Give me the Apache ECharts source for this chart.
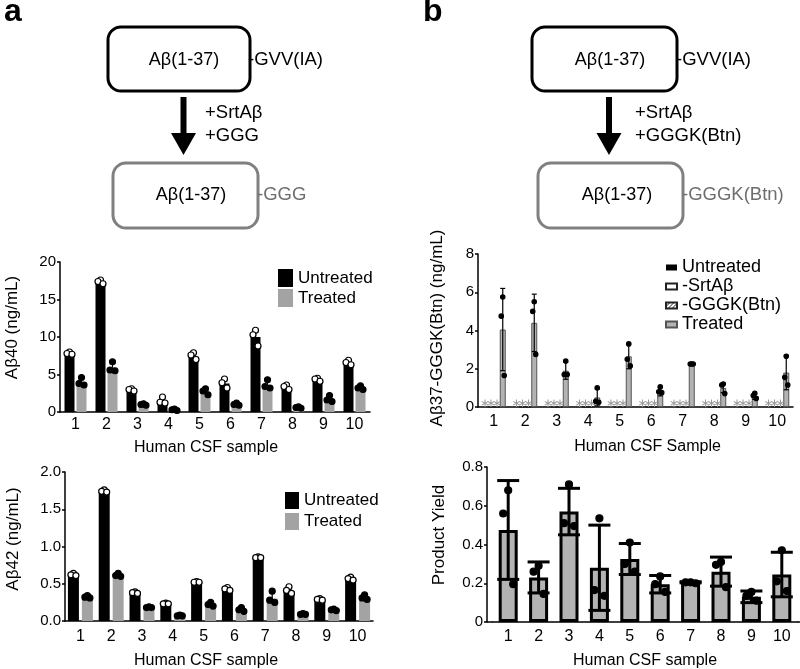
<!DOCTYPE html>
<html><head><meta charset="utf-8">
<script src="https://cdn.jsdelivr.net/npm/echarts/dist/echarts.min.js"></script>
<style>html,body{margin:0;padding:0;background:#fff}#c{width:800px;height:669px}</style>
</head><body><div id="c"></div>
<script>
const FONT = 'Liberation Sans, Arial, Helvetica, sans-serif';
const categories = ['1','2','3','4','5','6','7','8','9','10'];

// Panel a – Aβ40 (ng/mL)
const ab40Untreated = [7.8, 17.3, 2.9, 1.5, 7.4, 3.8, 10.0, 3.3, 4.3, 6.5];
const ab40UntreatedErr = [0.2, 0.3, 0.15, 0.45, 0.4, 0.6, 1.0, 0.3, 0.2, 0.3];
const ab40UntreatedPts = [[8.0,7.8,7.7],[17.6,17.4,17.1],[3.1,3.0,2.8],[2.0,1.3,1.2],[7.9,7.6,7.0],[4.4,3.9,3.2],[10.9,10.3,8.8],[3.6,3.4,3.0],[4.5,4.4,4.1],[6.9,6.6,6.3]];
const ab40Treated = [4.0, 5.9, 1.0, 0.3, 2.7, 1.0, 3.6, 0.6, 1.7, 3.2];
const ab40TreatedErr = [0.55, 0.75, 0.1, 0.1, 0.45, 0.15, 0.6, 0.1, 0.45, 0.25];
const ab40TreatedPts = [[4.6,3.8,3.6],[6.7,5.6,5.5],[1.1,1.0,0.9],[0.4,0.3,0.2],[3.1,2.8,2.3],[1.2,1.0,0.9],[4.3,3.4,3.2],[0.7,0.6,0.5],[2.2,1.6,1.4],[3.5,3.2,3.0]];

// Panel a – Aβ42 (ng/mL)
const ab42Untreated = [0.62, 1.73, 0.37, 0.23, 0.52, 0.42, 0.85, 0.40, 0.28, 0.56];
const ab42UntreatedErr = [0.02, 0.02, 0.01, 0.01, 0.01, 0.02, 0.01, 0.04, 0.02, 0.03];
const ab42UntreatedPts = [[0.64,0.62,0.61],[1.76,1.74,1.73],[0.39,0.38,0.37],[0.24,0.23,0.23],[0.53,0.52,0.52],[0.45,0.43,0.41],[0.86,0.85,0.85],[0.46,0.41,0.37],[0.30,0.29,0.28],[0.59,0.57,0.55]];
const ab42Treated = [0.32, 0.60, 0.18, 0.07, 0.21, 0.15, 0.30, 0.09, 0.15, 0.31];
const ab42TreatedErr = [0.02, 0.02, 0.01, 0.01, 0.03, 0.02, 0.10, 0.01, 0.02, 0.03];
const ab42TreatedPts = [[0.34,0.32,0.31],[0.64,0.61,0.60],[0.19,0.18,0.18],[0.08,0.07,0.07],[0.25,0.22,0.20],[0.18,0.15,0.13],[0.40,0.28,0.25],[0.10,0.09,0.09],[0.16,0.15,0.14],[0.35,0.31,0.29]];

// Panel b – Aβ37-GGGK(Btn) (ng/mL)
const btnUntreated = [0,0,0,0,0,0,0,0,0,0];
const btnNoSrtA = [0,0,0,0,0,0,0,0,0,0];
const btnNoGGGK = [0,0,0,0,0,0,0,0,0,0];
const btnTreated = [4.05, 4.4, 1.9, 0.5, 2.65, 0.8, 2.25, 1.0, 0.55, 1.8];
const btnTreatedErr = [2.15, 1.5, 0.45, 0.45, 0.65, 0.22, 0.03, 0.25, 0.15, 0.9];
const btnTreatedPts = [[5.75,4.75,1.65],[5.5,5.0,2.75],[2.4,1.7,1.7],[1.0,0.3,0.25],[3.3,2.5,2.15],[1.05,0.8,0.75],[2.25,2.25,2.25],[1.2,1.15,0.7],[0.72,0.6,0.45],[2.65,1.55,1.15]];

// Panel b – Product yield
const yieldMean = [0.475, 0.23, 0.57, 0.28, 0.325, 0.195, 0.205, 0.26, 0.13, 0.245];
const yieldErr = [0.255, 0.08, 0.12, 0.22, 0.08, 0.045, 0.003, 0.075, 0.03, 0.115];
const yieldPts = [[0.68,0.56,0.195],[0.29,0.26,0.145],[0.71,0.51,0.495],[0.535,0.165,0.135],[0.41,0.30,0.26],[0.235,0.195,0.155],[0.205,0.205,0.20],[0.31,0.295,0.18],[0.155,0.135,0.11],[0.37,0.21,0.16]];

// helpers
function errData(mean, err){ return categories.map((c,i)=>[i, mean[i], err[i]]); }
function ptData(pts){ const out=[]; pts.forEach((arr,i)=>arr.forEach((v,j)=>out.push([i,v,j]))); return out; }
function errRender(offset, capW, lw, oneSided){
  return function(params, api){
    const c=api.value(0), m=api.value(1), e=api.value(2);
    const p=api.coord([c,m]);
    const t=api.coord([c,m+e]);
    const b=api.coord([c,oneSided?m:Math.max(0,m-e)]);
    const x=p[0]+offset;
    const st={stroke:'#000', lineWidth:lw};
    const ch=[
      {type:'line', shape:{x1:x,y1:b[1],x2:x,y2:t[1]}, style:st},
      {type:'line', shape:{x1:x-capW/2,y1:t[1],x2:x+capW/2,y2:t[1]}, style:st}
    ];
    if(!oneSided) ch.push({type:'line', shape:{x1:x-capW/2,y1:b[1],x2:x+capW/2,y2:b[1]}, style:st});
    return {type:'group', children:ch};
  };
}
function ptRender(offset, r, fill, stroke, spread){
  const jit=[0,-1,1];
  return function(params, api){
    const c=api.value(0), v=api.value(1), j=api.value(2);
    const p=api.coord([c,v]);
    return {type:'circle', shape:{cx:p[0]+offset+jit[j]*spread, cy:p[1], r:r}, style:{fill:fill, stroke:stroke, lineWidth:1.2}};
  };
}

// hatch pattern
const pc=document.createElement('canvas'); pc.width=4; pc.height=4;
const g=pc.getContext('2d'); g.fillStyle='#fff'; g.fillRect(0,0,4,4);
g.strokeStyle='#222'; g.lineWidth=1; g.beginPath(); g.moveTo(0,4); g.lineTo(4,0); g.stroke();
const hatch={image:pc, repeat:'repeat'};

const axLine={lineStyle:{color:'#000', width:1.5}};
function xAx(idx, gap, margin, pad){
  return {type:'category', gridIndex:idx, data:categories, axisLine:axLine, axisTick:{show:false},
    axisLabel:{fontSize:16, color:'#000', margin:margin, fontFamily:FONT},
    name:(idx===2?'Human CSF Sample':'Human CSF sample'), nameLocation:'middle', nameGap:gap,
    nameTextStyle:{fontSize:16, color:'#000', fontFamily:FONT, padding:pad}};
}
function yAx(idx, max, interval, fmt, extra){
  return Object.assign({type:'value', gridIndex:idx, min:0, max:max, interval:interval,
    axisLine:{show:true, lineStyle:{color:'#000', width:1.5}}, axisTick:{show:true, length:3, lineStyle:{color:'#000', width:1.5}},
    splitLine:{show:false}, axisLabel:{fontSize:15, color:'#000', margin:4, fontFamily:FONT, formatter:fmt}}, extra||{});
}
function yName(text, cx, cy){
  return {type:'text', x:cx, y:cy, rotation:Math.PI/2,
    style:{text:text, fontSize:17, fontFamily:FONT, fill:'#000', align:'center', verticalAlign:'middle'}};
}

const option={
  animation:false,
  backgroundColor:'#fff',
  textStyle:{fontFamily:FONT},
  grid:[
    {left:60, top:262, width:310, height:150, containLabel:false, outerBoundsMode:'none'},
    {left:65, top:472, width:308, height:149, containLabel:false, outerBoundsMode:'none'},
    {left:478, top:254, width:315, height:153, containLabel:false, outerBoundsMode:'none'},
    {left:493, top:467, width:304, height:155, containLabel:false, outerBoundsMode:'none'}
  ],
  xAxis:[xAx(0,28,5,[0,18,0,0]), xAx(1,32,8,[0,26,0,0]), xAx(2,32,7,[0,0,0,24]), xAx(3,31,7,[0,0,0,0])],
  yAxis:[
    yAx(0,20,5,null),
    yAx(1,2,0.5,v=>v.toFixed(1)),
    yAx(2,8,2,null),
    yAx(3,0.8,0.2,null,{offset:6})
  ],
  legend:[
    {data:['Untreated','Treated'], left:273, top:264, orient:'vertical', icon:'rect', itemWidth:15, itemHeight:18, itemGap:2, selectedMode:false,
      textStyle:{fontSize:17, color:'#000', fontFamily:FONT}},
    {data:['Untreated','Treated'], left:280, top:487, orient:'vertical', icon:'rect', itemWidth:14, itemHeight:17, itemGap:4, selectedMode:false,
      textStyle:{fontSize:17, color:'#000', fontFamily:FONT}},
    {data:['Untreated_b','-SrtAβ','-GGGK(Btn)','Treated_b'], left:660, top:253, orient:'vertical', icon:'rect', itemWidth:11, itemHeight:6, itemGap:0, selectedMode:false,
      formatter:n=>n.replace('_b',''), textStyle:{fontSize:18, lineHeight:19, color:'#000', fontFamily:FONT}}
  ],
  series:[
    // grid 0
    {name:'Untreated', type:'bar', xAxisIndex:0, yAxisIndex:0, data:ab40Untreated, barWidth:10, barGap:'20%', itemStyle:{color:'#000'}},
    {name:'Treated', type:'bar', xAxisIndex:0, yAxisIndex:0, data:ab40Treated, barWidth:10, barGap:'20%', itemStyle:{color:'#a3a3a3'}},
    {type:'custom', xAxisIndex:0, yAxisIndex:0, data:errData(ab40Untreated,ab40UntreatedErr), encode:{x:0,y:1}, renderItem:errRender(-6,6,1.2,true), z:3},
    {type:'custom', xAxisIndex:0, yAxisIndex:0, data:errData(ab40Treated,ab40TreatedErr), encode:{x:0,y:1}, renderItem:errRender(6,6,1.2,true), z:3},
    {type:'custom', xAxisIndex:0, yAxisIndex:0, data:ptData(ab40UntreatedPts), encode:{x:0,y:1}, renderItem:ptRender(-6,3,'#fff','#000',2.5), z:4},
    {type:'custom', xAxisIndex:0, yAxisIndex:0, data:ptData(ab40TreatedPts), encode:{x:0,y:1}, renderItem:ptRender(6,3,'#000','#000',2.5), z:4},
    // grid 1
    {name:'Untreated', type:'bar', xAxisIndex:1, yAxisIndex:1, data:ab42Untreated, barWidth:11, barGap:'27%', itemStyle:{color:'#000'}},
    {name:'Treated', type:'bar', xAxisIndex:1, yAxisIndex:1, data:ab42Treated, barWidth:11, barGap:'27%', itemStyle:{color:'#a3a3a3'}},
    {type:'custom', xAxisIndex:1, yAxisIndex:1, data:errData(ab42Untreated,ab42UntreatedErr), encode:{x:0,y:1}, renderItem:errRender(-7,6,1.2,true), z:3},
    {type:'custom', xAxisIndex:1, yAxisIndex:1, data:errData(ab42Treated,ab42TreatedErr), encode:{x:0,y:1}, renderItem:errRender(7,6,1.2,true), z:3},
    {type:'custom', xAxisIndex:1, yAxisIndex:1, data:ptData(ab42UntreatedPts), encode:{x:0,y:1}, renderItem:ptRender(-7,3,'#fff','#000',2.5), z:4},
    {type:'custom', xAxisIndex:1, yAxisIndex:1, data:ptData(ab42TreatedPts), encode:{x:0,y:1}, renderItem:ptRender(7,3,'#000','#000',2.5), z:4},
    // grid 2
    {name:'Untreated_b', type:'bar', xAxisIndex:2, yAxisIndex:2, data:btnUntreated, barWidth:6, barGap:'0%', itemStyle:{color:'#000'},
      label:{show:true, position:'top', distance:-3, formatter:'∗', color:'#9a9a9a', fontSize:12, fontFamily:'DejaVu Sans'}},
    {name:'-SrtAβ', type:'bar', xAxisIndex:2, yAxisIndex:2, data:btnNoSrtA, barWidth:6, barGap:'0%', itemStyle:{color:'#fff', borderColor:'#222', borderWidth:1},
      label:{show:true, position:'top', distance:-3, formatter:'∗', color:'#9a9a9a', fontSize:12, fontFamily:'DejaVu Sans'}},
    {name:'-GGGK(Btn)', type:'bar', xAxisIndex:2, yAxisIndex:2, data:btnNoGGGK, barWidth:6, barGap:'0%', itemStyle:{color:hatch, borderColor:'#222', borderWidth:1},
      label:{show:true, position:'top', distance:-3, formatter:'∗', color:'#9a9a9a', fontSize:12, fontFamily:'DejaVu Sans'}},
    {name:'Treated_b', type:'bar', xAxisIndex:2, yAxisIndex:2, data:btnTreated, barWidth:6, barGap:'0%', itemStyle:{color:'#b3b3b3', borderColor:'#555', borderWidth:1}},
    {type:'custom', xAxisIndex:2, yAxisIndex:2, data:errData(btnTreated,btnTreatedErr), encode:{x:0,y:1}, renderItem:errRender(9,5,1.2,false), z:3},
    {type:'custom', xAxisIndex:2, yAxisIndex:2, data:ptData(btnTreatedPts), encode:{x:0,y:1}, renderItem:ptRender(9,2.2,'#000','#000',1.5), z:4},
    // grid 3
    {name:'Yield', type:'bar', xAxisIndex:3, yAxisIndex:3, data:yieldMean, barWidth:19, itemStyle:{color:'#b3b3b3', borderColor:'#000', borderWidth:3}},
    {type:'custom', xAxisIndex:3, yAxisIndex:3, data:errData(yieldMean,yieldErr), encode:{x:0,y:1}, renderItem:errRender(0,22,3,false), z:3},
    {type:'custom', xAxisIndex:3, yAxisIndex:3, data:ptData(yieldPts), encode:{x:0,y:1}, renderItem:ptRender(0,3.5,'#000','#000',5), z:4}
  ],
  graphic:[
    {type:'line', shape:{x1:487,y1:622,x2:493,y2:622}, style:{stroke:'#000', lineWidth:1.5}},
    {type:'line', shape:{x1:797,y1:622,x2:800,y2:622}, style:{stroke:'#000', lineWidth:1.5}},
    // y-axis titles
    yName('Aβ40 (ng/mL)', 12.5, 327.5),
    yName('Aβ42 (ng/mL)', 13, 539),
    yName('Aβ37-GGGK(Btn) (ng/mL)', 437, 328),
    yName('Product Yield', 439, 535),
    // panel labels
    {type:'text', x:4, y:12, style:{text:'a', fontSize:32, fontWeight:'bold', fontFamily:FONT, fill:'#000', align:'left', verticalAlign:'middle'}},
    {type:'text', x:423, y:12, style:{text:'b', fontSize:32, fontWeight:'bold', fontFamily:FONT, fill:'#000', align:'left', verticalAlign:'middle'}},
    // panel a diagram
    {type:'rect', shape:{x:108,y:27,width:142,height:64,r:13}, style:{fill:'#fff', stroke:'#000', lineWidth:3}},
    {type:'text', x:184, y:60, style:{text:'Aβ(1-37)', fontSize:18, fontFamily:FONT, fill:'#000', align:'center', verticalAlign:'middle'}},
    {type:'text', x:248, y:60, style:{text:'-GVV(IA)', fontSize:18.5, fontFamily:FONT, fill:'#000', align:'left', verticalAlign:'middle'}},
    {type:'rect', shape:{x:180.5,y:97,width:6,height:38}, style:{fill:'#000'}},
    {type:'polygon', shape:{points:[[171,133],[196,133],[183.5,155]]}, style:{fill:'#000'}},
    {type:'text', x:205, y:113, style:{text:'+SrtAβ', fontSize:18.5, fontFamily:FONT, fill:'#000', align:'left', verticalAlign:'middle'}},
    {type:'text', x:205, y:136, style:{text:'+GGG', fontSize:18.5, fontFamily:FONT, fill:'#000', align:'left', verticalAlign:'middle'}},
    {type:'rect', shape:{x:113,y:163,width:145,height:65,r:13}, style:{fill:'#fff', stroke:'#808080', lineWidth:3}},
    {type:'text', x:191, y:195, style:{text:'Aβ(1-37)', fontSize:18, fontFamily:FONT, fill:'#000', align:'center', verticalAlign:'middle'}},
    {type:'text', x:257, y:195, style:{text:'-GGG', fontSize:18.5, fontFamily:FONT, fill:'#6e6e6e', align:'left', verticalAlign:'middle'}},
    // panel b diagram
    {type:'rect', shape:{x:532,y:27,width:145,height:64,r:13}, style:{fill:'#fff', stroke:'#000', lineWidth:3}},
    {type:'text', x:610, y:60, style:{text:'Aβ(1-37)', fontSize:18, fontFamily:FONT, fill:'#000', align:'center', verticalAlign:'middle'}},
    {type:'text', x:676, y:60, style:{text:'-GVV(IA)', fontSize:18.5, fontFamily:FONT, fill:'#000', align:'left', verticalAlign:'middle'}},
    {type:'rect', shape:{x:606,y:97,width:6,height:38}, style:{fill:'#000'}},
    {type:'polygon', shape:{points:[[596.5,133],[621.5,133],[609,155]]}, style:{fill:'#000'}},
    {type:'text', x:635, y:113, style:{text:'+SrtAβ', fontSize:18.5, fontFamily:FONT, fill:'#000', align:'left', verticalAlign:'middle'}},
    {type:'text', x:635, y:136, style:{text:'+GGGK(Btn)', fontSize:18.5, fontFamily:FONT, fill:'#000', align:'left', verticalAlign:'middle'}},
    {type:'rect', shape:{x:538,y:163,width:145,height:65,r:13}, style:{fill:'#fff', stroke:'#808080', lineWidth:3}},
    {type:'text', x:617, y:195, style:{text:'Aβ(1-37)', fontSize:18, fontFamily:FONT, fill:'#000', align:'center', verticalAlign:'middle'}},
    {type:'text', x:682, y:195, style:{text:'-GGGK(Btn)', fontSize:18.5, fontFamily:FONT, fill:'#6e6e6e', align:'left', verticalAlign:'middle'}}
  ]
};
const chart=echarts.init(document.getElementById('c'), null, {renderer:'canvas'});
chart.setOption(option);
</script>
</body></html>
